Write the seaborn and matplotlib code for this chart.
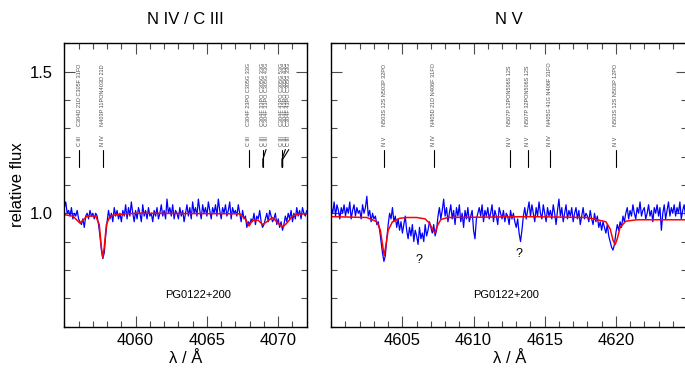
import numpy as np
import pandas as pd
import matplotlib
matplotlib.use("Agg")
import matplotlib.pyplot as plt
from matplotlib.ticker import MultipleLocator, FormatStrFormatter
import seaborn as sns

# ---- data ----
# observed spectrum, N IV / C III panel (4055.0 .. 4072.0, 0.1 A grid)
left_start, left_stop, left_step = 4055.0, 4072.0, 0.1
left_obs = [
    1.02, 1.04, 1.00, 1.01, 0.99, 1.02, 0.98, 1.00, 0.99, 1.01,
    0.98, 0.97, 0.96, 0.98, 0.95, 0.99, 1.00, 0.98, 1.01, 0.99,
    1.00, 0.98, 1.00, 0.99, 0.96, 0.92, 0.87, 0.84, 0.86, 0.92,
    0.97, 1.01, 0.98, 1.00, 0.97, 1.02, 0.99, 1.01, 0.98, 1.00,
    0.97, 1.01, 0.99, 1.03, 0.98, 1.02, 0.99, 1.04, 1.00, 0.97,
    1.01, 0.98, 1.02, 1.00, 0.97, 1.03, 0.99, 1.01, 0.98, 1.02,
    0.99, 1.00, 0.97, 1.01, 0.99, 1.02, 0.98, 1.00, 1.03, 0.99,
    1.01, 0.98, 1.05, 1.00, 1.02, 0.99, 1.03, 0.98, 1.01, 1.00,
    0.98, 1.02, 0.99, 1.01, 0.97, 1.00, 1.03, 0.99, 1.02, 0.98,
    1.04, 1.00, 1.02, 0.99, 1.05, 1.01, 0.98, 1.03, 1.00, 1.02,
    0.99, 1.04, 1.01, 0.98, 1.02, 1.00, 1.03, 0.99, 1.05, 1.01,
    0.98, 1.02, 1.00, 1.03, 0.99, 1.01, 1.04, 0.98, 1.02, 1.00,
    1.01, 0.99, 1.03, 1.00, 0.97, 1.01, 0.98, 0.99, 0.95, 0.97,
    0.96, 0.98, 0.97, 1.00, 0.96, 0.99, 0.98, 1.01, 0.97, 0.95,
    0.96, 0.98, 1.00, 0.97, 1.01, 0.99, 0.97, 0.98, 1.00, 0.96,
    0.98, 0.95, 0.97, 0.94, 0.96, 0.99, 0.97, 1.00, 0.98, 1.01,
    0.97, 1.00, 0.98, 1.02, 0.99, 1.01, 0.98, 1.02, 1.00, 0.99,
    1.01,
]
left_model_wave = [4055.0, 4055.6, 4055.9, 4056.1, 4056.3, 4056.6, 4057.2, 4057.45,
                   4057.6, 4057.7, 4057.8, 4057.95, 4058.2, 4058.6, 4060.0, 4067.3,
                   4067.7, 4067.95, 4068.2, 4068.6, 4068.9, 4069.2, 4069.6, 4069.9,
                   4070.2, 4070.35, 4070.6, 4071.0, 4071.4, 4072.0]
left_model_flux = [0.995, 0.99, 0.975, 0.965, 0.975, 0.99, 0.99, 0.96,
                   0.88, 0.843, 0.88, 0.96, 0.99, 0.995, 1.0, 0.998,
                   0.98, 0.955, 0.975, 0.975, 0.96, 0.97, 0.985, 0.97,
                   0.955, 0.953, 0.965, 0.99, 0.997, 0.998]
left_xticks = [4060, 4065, 4070]

# observed spectrum, N V panel (4600.0 .. 4625.0, 0.1 A grid)
right_start, right_stop, right_step = 4600.0, 4625.0, 0.1
right_obs = [
    1.02, 1.00, 1.04, 0.99, 1.03, 1.01, 0.98, 1.02, 1.00, 1.03,
    0.99, 1.02, 1.00, 1.04, 0.98, 1.01, 1.03, 0.99, 1.02, 1.00,
    1.01, 0.98, 1.03, 1.00, 1.02, 1.06, 0.99, 1.01, 0.97, 1.00,
    0.98, 0.99, 0.96, 0.97, 0.94, 0.90, 0.86, 0.83, 0.85, 0.91,
    0.96, 1.00, 0.98, 1.02, 0.97, 0.99, 0.95, 0.98, 0.94, 0.97,
    0.93, 0.96, 0.99, 0.94, 0.91, 0.95, 0.92, 0.96, 0.90, 0.94,
    0.92, 0.89, 0.95, 0.91, 0.93, 0.90, 0.96, 0.92, 0.94, 0.97,
    0.95, 0.93, 0.96, 0.92, 0.94, 0.99, 1.02, 0.98, 1.01, 1.05,
    0.99, 1.02, 0.97, 1.00, 1.03, 0.98, 1.01, 0.96, 1.02, 0.99,
    1.03, 0.97, 1.00, 0.95, 1.01, 0.98, 1.02, 0.97, 0.99, 1.01,
    0.94, 0.91, 0.98, 1.00, 1.02, 0.99, 1.03, 0.97, 1.01, 0.99,
    1.02, 0.98, 1.00, 1.03, 0.97, 1.01, 0.99, 0.96, 1.02, 1.00,
    0.98, 1.01, 0.97, 1.00, 0.99, 0.96, 1.01, 0.98, 1.00, 0.97,
    0.95, 0.98, 0.93, 0.90, 0.94, 0.99, 1.02, 0.98, 1.01, 1.04,
    0.99, 1.03, 1.00, 0.97, 1.02, 0.99, 1.04, 1.00, 0.98, 1.03,
    1.00, 0.97, 1.02, 0.99, 1.01, 0.98, 1.03, 1.00, 0.96, 1.01,
    1.05, 0.99, 1.02, 0.97, 1.00, 1.03, 0.98, 1.01, 0.99, 1.02,
    0.97, 1.00, 1.02, 0.98, 1.01, 0.96, 0.99, 1.02, 0.98, 1.00,
    0.99, 0.97, 1.01, 0.98, 0.96, 1.00, 0.97, 0.99, 0.95, 0.97,
    0.94, 0.97, 0.95, 0.93, 0.96, 0.92, 0.90, 0.88, 0.87, 0.89,
    0.93, 0.96, 0.94, 0.97, 0.95, 0.99, 0.97, 1.00, 1.02, 0.98,
    1.01, 0.99, 1.03, 1.00, 0.98, 1.02, 1.00, 1.04, 0.99, 1.01,
    1.02, 0.98, 1.00, 1.03, 0.99, 1.01, 0.97, 1.02, 1.00, 1.03,
    0.99, 1.02, 0.94, 1.00, 1.03, 0.98, 1.01, 1.04, 0.99, 1.02,
    1.00, 1.03, 0.99, 1.02, 1.00, 1.04, 0.98, 1.01, 1.03, 0.99,
    1.01,
]
right_model_wave = [4600.0, 4602.5, 4603.2, 4603.45, 4603.6, 4603.72, 4603.85, 4604.0,
                    4604.3, 4604.8, 4605.3, 4606.0, 4606.6, 4606.9, 4607.1, 4607.28,
                    4607.45, 4607.7, 4608.2, 4612.0, 4614.0, 4618.0, 4619.3, 4619.6,
                    4619.8, 4619.95, 4620.1, 4620.3, 4620.7, 4621.5, 4625.0]
right_model_flux = [0.988, 0.985, 0.97, 0.94, 0.89, 0.85, 0.89, 0.94,
                    0.97, 0.982, 0.985, 0.985, 0.98, 0.965, 0.945, 0.93,
                    0.955, 0.978, 0.985, 0.987, 0.988, 0.985, 0.97, 0.945,
                    0.905, 0.889, 0.91, 0.95, 0.972, 0.977, 0.977]
right_xticks = [4605, 4610, 4615, 4620]

# line identifications
left_line_wave = [4056.06, 4057.70, 4067.94, 4068.91, 4068.92, 4070.26, 4070.26, 4070.31]
left_line_ion = ["C III", "N IV", "C III", "C III", "C III", "C III", "C III", "C III"]
left_line_label = ["C304D 21D C305F 31FO", "N403P 11PON403D 21D",
                   "C304F 23PO C305G 33G", "C304F 33PO C305G 33G",
                   "C304F 33PO C305G 43G", "C304F 43PO C305G 53G",
                   "C304F 43PO C305G 43G", "C304F 43PO C305G 33G"]
right_line_wave = [4603.73, 4607.20, 4612.55, 4613.80, 4615.36, 4619.98]
right_line_ion = ["N V", "N IV", "N V", "N V", "N IV", "N V"]
right_line_label = ["N503S 12S N503P 32PO", "N405D 21D N406F 31FO",
                    "N507P 12PON506S 12S", "N507P 32PON506S 12S",
                    "N405G 41G N406F 31FO", "N503S 12S N503P 12PO"]

# unidentified features in the N V panel
unknown_wave = [4606.2, 4613.2]
unknown_flux = [0.836, 0.857]

panel_titles = ["N IV / C III", "N V"]
star_name = "PG0122+200"

# ---- style ----
sns.set_theme(style="ticks")
plt.rcParams["font.family"] = ["Liberation Sans", "DejaVu Sans"]
plt.rcParams["axes.linewidth"] = 1.0
for key in ["text.color", "axes.labelcolor", "xtick.labelcolor", "ytick.labelcolor"]:
    plt.rcParams[key] = "black"

fig = plt.figure(figsize=(6.85, 3.74), dpi=100)
ax_l = fig.add_axes([0.0939, 0.127, 0.3539, 0.757])
ax_r = fig.add_axes([0.4836, 0.127, 0.5193, 0.757])


def spectrum_frame(start, stop, step, obs, mwave, mflux):
    wave = np.round(np.arange(start, stop + step / 2, step), 2)
    obs_df = pd.DataFrame({"wave": wave, "flux": obs})
    mod_df = pd.DataFrame({"wave": mwave, "flux": mflux})
    return obs_df, mod_df


def draw_line_ids(ax, waves, ions, labels):
    # tick marks with ion and transition labels; close lines get fanned out
    y_bot, y_kink, y_top = 1.163, 1.19, 1.225
    prev_w, prev_lx = None, None
    for w, ion, lab in zip(waves, ions, labels):
        if prev_w is not None and abs(w - prev_w) < 0.15:
            lx = prev_lx + 0.24
        else:
            lx = w
        if lx == w:
            ax.plot([w, w], [y_bot, y_top], color="black", lw=0.8)
        else:
            ax.plot([w, w, lx], [y_bot, y_kink, y_top], color="black", lw=0.8)
        ax.text(lx, 1.236, ion, rotation=90, ha="center", va="bottom",
                fontsize=4, color="0.25")
        ax.text(lx, 1.307, lab, rotation=90, ha="center", va="bottom",
                fontsize=4.0, color="0.3")
        prev_w, prev_lx = w, lx


def style_axes(ax, xlim, xticks):
    ax.set_xlim(*xlim)
    ax.set_ylim(0.6, 1.6)
    ax.set_xticks(xticks)
    ax.xaxis.set_minor_locator(MultipleLocator(1))
    ax.yaxis.set_major_locator(MultipleLocator(0.5))
    ax.yaxis.set_minor_locator(MultipleLocator(0.1))
    ax.yaxis.set_major_formatter(FormatStrFormatter("%.1f"))
    ax.tick_params(which="both", direction="in", top=True, right=True,
                   color="0.3", width=0.8, labelsize=12)
    ax.tick_params(which="major", length=7.7)
    ax.tick_params(which="minor", length=4.1)
    ax.tick_params(axis="x", pad=5)
    ax.tick_params(axis="y", pad=8)
    for sp in ax.spines.values():
        sp.set_color("black")
    ax.set_xlabel("λ / Å", fontsize=12, labelpad=2)
    ax.set_ylabel("")


panels = [
    (ax_l, (left_start, left_stop, left_step, left_obs, left_model_wave, left_model_flux),
     (4055, 4072), left_xticks, (left_line_wave, left_line_ion, left_line_label), 4064.35),
    (ax_r, (right_start, right_stop, right_step, right_obs, right_model_wave, right_model_flux),
     (4600, 4625), right_xticks, (right_line_wave, right_line_ion, right_line_label), 4612.27),
]

for i, (ax, spec, xlim, xticks, ids, star_x) in enumerate(panels):
    obs_df, mod_df = spectrum_frame(*spec)
    sns.lineplot(data=obs_df, x="wave", y="flux", ax=ax, color="#0000ff",
                 lw=0.9, estimator=None, sort=False)
    sns.lineplot(data=mod_df, x="wave", y="flux", ax=ax, color="#ff0000",
                 lw=1.1, estimator=None, sort=False)
    draw_line_ids(ax, *ids)
    style_axes(ax, xlim, xticks)
    ax.set_title(panel_titles[i], fontsize=12, pad=14)
    ax.text(star_x, 0.712, star_name, ha="center", va="center", fontsize=8)

ax_l.set_ylabel("relative flux", fontsize=12, labelpad=4)
ax_r.set_yticklabels([])

for w, f in zip(unknown_wave, unknown_flux):
    ax_r.text(w, f, "?", ha="center", va="center", fontsize=9)

fig.savefig("out.png", dpi=100)
